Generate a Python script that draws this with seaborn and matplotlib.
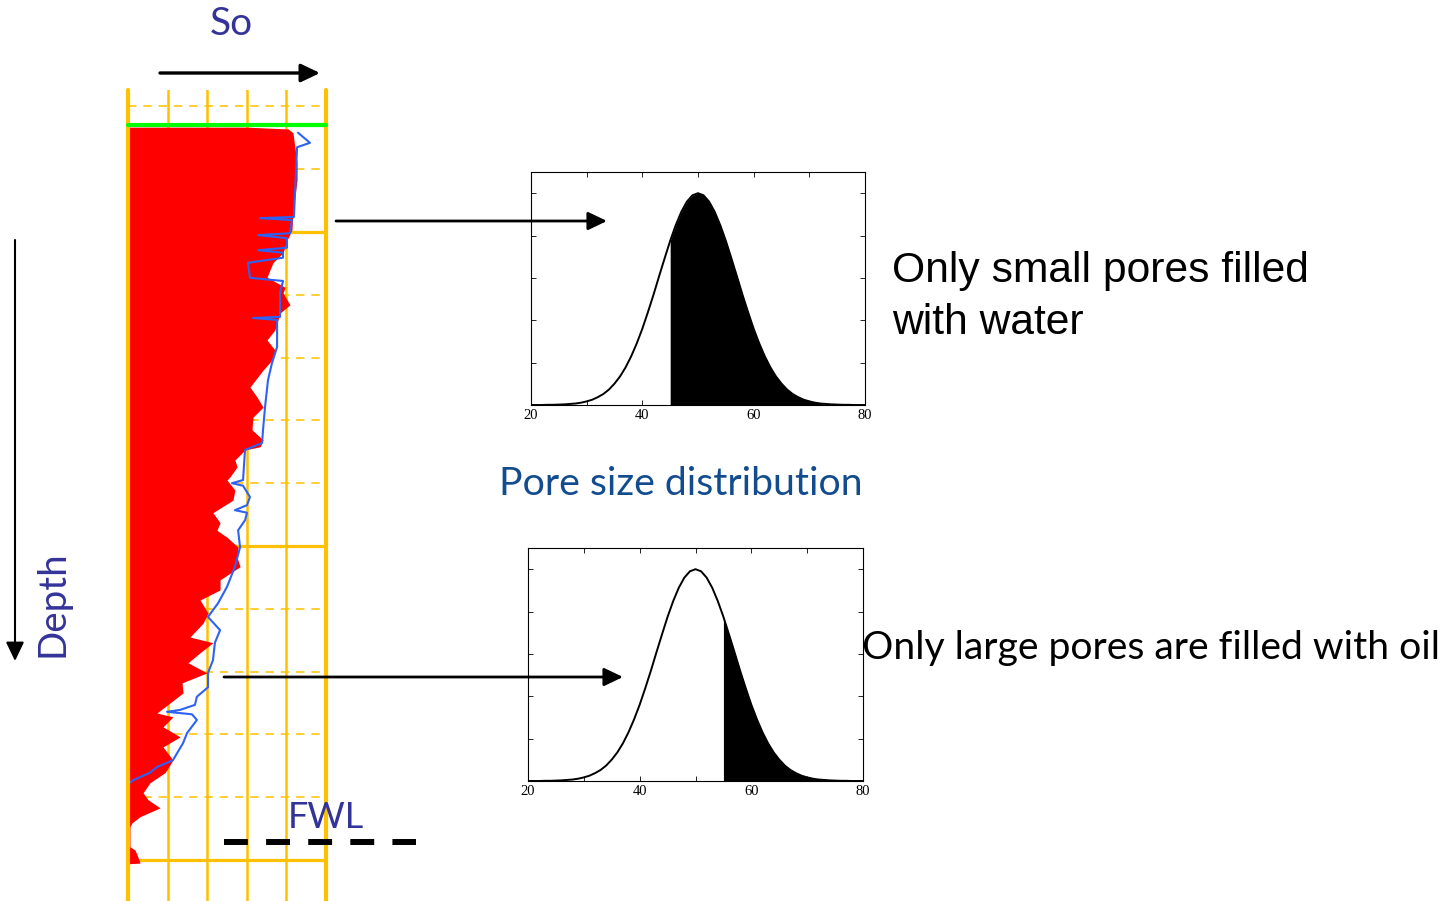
import numpy as np
import pandas as pd
import matplotlib
matplotlib.use("Agg")
import matplotlib.pyplot as plt
import seaborn as sns

# ---------------- data ----------------
# saturation log (So, fraction) vs depth (ft)
red_depth = [83.3, 83.6, 84.2, 86.5, 89.0, 91.7, 94.4, 97.0, 99.7, 101.3, 103.3, 104.9,
             107.2, 108.8, 109.7, 111.6, 112.9, 115.6, 117.2, 118.8, 120.4, 122.0, 124.7,
             126.3, 127.9, 129.5, 131.5, 133.1, 134.2, 134.7, 136.3, 137.4, 139.0, 139.5,
             141.1, 142.7, 144.7, 146.3, 147.5, 148.6, 150.2, 151.8, 153.3, 155.4, 157.0,
             158.6, 160.7, 162.3, 164.5, 165.4, 167.0, 168.6, 170.2, 171.8, 173.4, 175.0,
             176.6, 177.2, 178.8, 180.4, 182.0, 184.1, 186.1, 187.7, 189.3, 190.4, 191.7,
             193.1, 194.1, 194.7, 197.9, 198.4, 199.5, 200.5, 200.6]
red_so = [0.60, 0.81, 0.833, 0.843, 0.854, 0.854, 0.843, 0.833, 0.828, 0.803, 0.783, 0.732,
          0.702, 0.793, 0.783, 0.818, 0.768, 0.742, 0.702, 0.742, 0.727, 0.682, 0.616,
          0.652, 0.682, 0.631, 0.626, 0.682, 0.667, 0.591, 0.540, 0.551, 0.515, 0.500,
          0.540, 0.530, 0.429, 0.465, 0.449, 0.500, 0.556, 0.551, 0.566, 0.465, 0.465,
          0.364, 0.404, 0.379, 0.313, 0.429, 0.364, 0.303, 0.399, 0.273, 0.278, 0.212,
          0.146, 0.227, 0.177, 0.263, 0.177, 0.227, 0.187, 0.111, 0.076, 0.101, 0.162,
          0.061, 0.020, 0.010, 0.010, 0.035, 0.050, 0.061, 0.0]

blue_depth = [84.2, 85.8, 86.5, 97.6, 97.8, 98.1, 100.2, 100.5, 101.0, 102.5, 102.9, 103.3,
              104.1, 104.9, 107.3, 107.8, 109.7, 113.5, 113.7, 114.0, 118.3, 120.9, 123.6,
              127.9, 131.5, 133.6, 134.7, 139.5, 140.0, 140.4, 142.2, 143.5, 144.3, 144.7,
              145.9, 147.5, 150.2, 153.3, 156.5, 159.1, 161.3, 163.4, 165.4, 168.2, 170.2,
              172.5, 174.0, 175.3, 176.1, 176.4, 176.8, 177.7, 179.8, 181.4, 184.1, 185.2,
              186.1, 187.3, 187.7]
blue_so = [0.859, 0.919, 0.854, 0.838, 0.667, 0.828, 0.818, 0.657, 0.803, 0.803, 0.657, 0.783,
           0.783, 0.606, 0.616, 0.783, 0.768, 0.768, 0.631, 0.753, 0.753, 0.727, 0.707,
           0.692, 0.682, 0.677, 0.591, 0.581, 0.525, 0.581, 0.616, 0.601, 0.540, 0.601,
           0.591, 0.556, 0.566, 0.540, 0.500, 0.455, 0.404, 0.465, 0.439, 0.429, 0.404,
           0.404, 0.348, 0.338, 0.263, 0.197, 0.323, 0.348, 0.298, 0.278, 0.227, 0.146,
           0.111, 0.025, 0.010]

grid_so = [0.2, 0.4, 0.6, 0.8]
border_so = [0.0, 1.0]
major_depths = [100, 150, 200]
minor_depths = [80, 90, 110, 120, 130, 140, 160, 170, 180, 190]
oil_top_depth = 83.0
fwl_depth = 197.1
fwl_so = [0.485, 1.455]

# pore size distribution (normalised frequency)
pore_size = list(range(20, 81))
pore_density = [0.000, 0.000, 0.000, 0.001, 0.001, 0.002, 0.003, 0.005, 0.007, 0.011,
                0.017, 0.025, 0.037, 0.052, 0.073, 0.101, 0.135, 0.178, 0.230, 0.291,
                0.360, 0.438, 0.520, 0.607, 0.692, 0.775, 0.849, 0.912, 0.960, 0.990,
                1.000,
                0.990, 0.960, 0.912, 0.849, 0.775, 0.692, 0.607, 0.520, 0.438, 0.360,
                0.291, 0.230, 0.178, 0.135, 0.101, 0.073, 0.052, 0.037, 0.025, 0.017,
                0.011, 0.007, 0.005, 0.003, 0.002, 0.001, 0.001, 0.000, 0.000, 0.000]
cut_small = 45   # upper panel: pores larger than this hold oil
cut_large = 55   # lower panel
x_major = [20, 40, 60, 80]
x_minor = [30, 50, 70]
y_major = [0.0, 0.2, 0.4, 0.6, 0.8, 1.0]

# ---------------- style ----------------
sns.set_style("white")
plt.rcParams['font.family'] = ['Liberation Serif', 'DejaVu Serif']

W, H = 1447, 901
fig = plt.figure(figsize=(W / 100, H / 100), dpi=100)
fig.patch.set_facecolor('white')

YEL = '#FFC000'
INDIGO = '#333399'

# ---------------- log track ----------------
ax_t = fig.add_axes([128 / W, 0, 198 / W, 811 / H])
ax_t.set_xlim(0, 1)
ax_t.set_ylim(206.53, 77.39)
ax_t.axis('off')

for s in grid_so:
    ax_t.axvline(s, color=YEL, lw=1.8, zorder=1)
for d in major_depths:
    ax_t.axhline(d, color=YEL, lw=2.3, zorder=1)
for d in minor_depths:
    ax_t.axhline(d, xmin=0.0, xmax=0.98, color=YEL, lw=1.1, ls=(0, (5.5, 4.5)), zorder=1)

ax_t.fill_betweenx(red_depth, 0, red_so, color='#FF0000', lw=0, zorder=2)
sns.lineplot(x=blue_so, y=blue_depth, orient='y', sort=False, estimator=None,
             color='#2D62F5', lw=1.5, ax=ax_t, zorder=3)
for s in border_so:
    ax_t.axvline(s, color=YEL, lw=3.0, zorder=4, clip_on=False)
ax_t.axhline(oil_top_depth, color='#00FF00', lw=3.0, zorder=5, clip_on=False)

ax_t.plot(fwl_so, [fwl_depth, fwl_depth], color='black', lw=4.3,
          ls=(0, (4.0, 3.05)), solid_capstyle='butt', dash_capstyle='butt',
          clip_on=False, zorder=6)
ax_t.text(1.0, 193.3, "FWL", ha='center', va='center', fontsize=26,
          color=INDIGO, family='Lato', clip_on=False, zorder=7)


# ---------------- pore-size panels ----------------
def pore_panel(rect, cut):
    ax = fig.add_axes(rect)
    df = pd.DataFrame({'size': pore_size, 'density': pore_density})
    sns.lineplot(data=df, x='size', y='density', color='black', lw=1.4, ax=ax)
    m = df['size'] >= cut
    ax.fill_between(df['size'][m], 0, df['density'][m], color='black', lw=0)
    ax.set_xlim(20, 80)
    ax.set_ylim(0, 1.1)
    ax.set_xticks(x_major)
    ax.set_xticks(x_minor, minor=True)
    ax.set_yticks(y_major)
    ax.tick_params(which='both', direction='in', bottom=True, left=True, top=True,
                   right=True, length=3.5, width=0.6, colors='black',
                   labelleft=False, labelsize=10.5, pad=3)
    ax.set_xlabel('')
    ax.set_ylabel('')
    ax.set_facecolor('white')
    for sp in ax.spines.values():
        sp.set_color('black')
        sp.set_linewidth(0.8)
    return ax


pore_panel([531 / W, 1 - 405 / H, 334 / W, 233 / H], cut_small)
pore_panel([528 / W, 1 - 781 / H, 335 / W, 233 / H], cut_large)

# ---------------- overlay: arrows and labels ----------------
ax_o = fig.add_axes([0, 0, 1, 1])
ax_o.set_xlim(0, W)
ax_o.set_ylim(H, 0)
ax_o.axis('off')


def arrow(p0, p1, lw):
    ax_o.annotate("", xy=p1, xytext=p0,
                  arrowprops=dict(arrowstyle="-|>,head_length=1.15,head_width=0.55",
                                  mutation_scale=10, lw=lw, color='black',
                                  shrinkA=0, shrinkB=0))


arrow((160, 73), (320, 73), 2.4)
arrow((15, 240), (15, 661), 1.5)
arrow((336, 221), (607, 221), 2.0)
arrow((224, 677), (623, 677), 2.0)

ax_o.text(231, 24, "So", ha='center', va='center', fontsize=28, color=INDIGO, family='Lato')
ax_o.text(52, 604, "Depth", ha='center', va='center', rotation=90, fontsize=27.7,
          color=INDIGO, family='Lato')
ax_o.text(681, 484, "Pore size distribution", ha='center', va='center', fontsize=28.3,
          color='#134C8E', family='Lato')
ax_o.text(892, 271, "Only small pores filled", ha='left', va='center', fontsize=30.7,
          color='black', family='Liberation Sans')
ax_o.text(892, 323, "with water", ha='left', va='center', fontsize=30.7,
          color='black', family='Liberation Sans')
ax_o.text(862, 648, "Only large pores are filled with oil", ha='left', va='center',
          fontsize=28.2, color='black', family='Lato')

fig.savefig("out.png", dpi=100, facecolor='white')
